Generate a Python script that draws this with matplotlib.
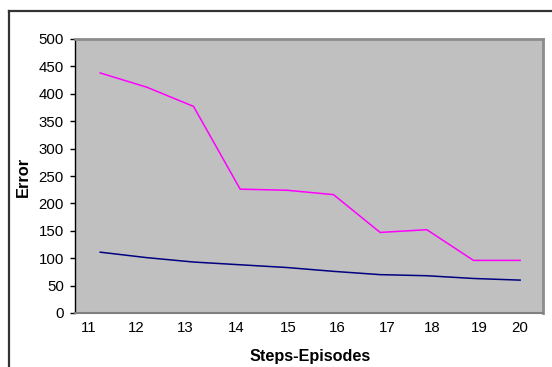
import matplotlib
matplotlib.use("Agg")
import matplotlib.pyplot as plt
from matplotlib.lines import Line2D

plt.rcParams['font.family'] = ['Liberation Sans', 'DejaVu Sans']

episodes = [11, 12, 13, 14, 15, 16, 17, 18, 19, 20]
series_magenta = [438, 412, 377, 226, 224, 216, 147, 152, 96, 96]
series_navy = [111, 101, 93, 88, 83, 76, 70, 68, 63, 60]
tick_labels = ["11", "12", "13", "14", "15", "16", "17", "18", "19", "20"]
y_ticks = [0, 50, 100, 150, 200, 250, 300, 350, 400, 450, 500]

# label placement (Excel-like offset of labels relative to points)
tick_pos = [10.76, 11.77, 12.82, 13.91, 15.03, 16.08, 17.15, 18.11, 19.12, 20.0]

W, H = 552, 367
fig = plt.figure(figsize=(W / 100, H / 100), dpi=100)
ax = fig.add_axes([75 / W, 1 - 313 / H, (543 - 75) / W, (313 - 39) / H])
ax.set_facecolor('#C0C0C0')

ax.plot(episodes, series_magenta, color='#FF00FF', lw=1.1, solid_joinstyle='miter')
ax.plot(episodes, series_navy, color='#000080', lw=1.1)

ax.set_xlim(10.46, 20.49)
ax.set_ylim(0, 500)
ax.set_yticks(y_ticks)
ax.set_yticklabels([str(v) for v in y_ticks])
ax.set_xticks(tick_pos)
ax.set_xticklabels(tick_labels)

ax.tick_params(axis='y', length=3.5, width=1, color='black', pad=4.5,
               labelsize=10.8, labelcolor='black')
ax.tick_params(axis='x', length=0, pad=6, labelsize=10.8, labelcolor='black')

for s in ['top', 'right']:
    ax.spines[s].set_color('#8C8C8C')
    ax.spines[s].set_linewidth(2)
ax.spines['bottom'].set_color('#808080')
ax.spines['bottom'].set_linewidth(1.5)
ax.spines['left'].set_color('black')
ax.spines['left'].set_linewidth(1)

fig.text(23 / W, 1 - 177 / H, 'Error', rotation=90, ha='center', va='center',
         fontsize=11.8, fontweight='bold')
fig.text(310 / W, 1 - 357 / H, 'Steps-Episodes', ha='center', va='center',
         fontsize=11.7, fontweight='bold')

# outer chart border (only left and top visible in frame)
fig.add_artist(Line2D([9 / W, 9 / W], [-0.05, 1 - 11 / H], transform=fig.transFigure,
                      color='#333333', lw=1.6))
fig.add_artist(Line2D([9 / W, 1.05], [1 - 11 / H, 1 - 11 / H], transform=fig.transFigure,
                      color='#333333', lw=1.6))

fig.savefig('out.png', dpi=100)
